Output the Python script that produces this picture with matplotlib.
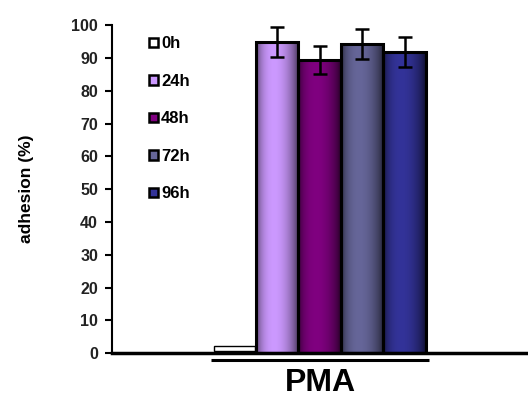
import numpy as np
import matplotlib.pyplot as plt
from matplotlib.patches import Patch, Rectangle
from matplotlib.colors import to_rgb

plt.rcParams['font.family'] = ['Liberation Sans', 'DejaVu Sans']

times = ["0h", "24h", "48h", "72h", "96h"]
adhesion = [1.5, 94.8, 89.3, 94.2, 91.8]
errors = [0, 4.6, 4.3, 4.6, 4.5]
colors = ["#FFFFFF", "#CC99FF", "#800080", "#666699", "#333399"]
group_label = "PMA"

fig = plt.figure(figsize=(5.28, 3.99), dpi=100)
ax = fig.add_axes([0.212, 0.115, 0.788, 0.822])

x = np.arange(len(times))
width = 1.0


def shaded_bar(ax, xc, h, color):
    # fake the cylinder look: dark edges, light a bit left of centre
    t = np.linspace(0, 1, 64)
    shade = 0.25 + 0.75 * np.clip(np.sin(np.pi * t ** 0.8), 0, 1) ** 0.6
    rgb = np.array(to_rgb(color))
    img = (shade[:, None] * rgb[None, :])[None, :, :]
    x0 = xc - width / 2
    ax.imshow(img, extent=(x0, x0 + width, 0, h), aspect="auto",
              interpolation="bilinear", zorder=2)
    ax.add_patch(Rectangle((x0, 0), width, h, fill=False,
                           edgecolor="black", linewidth=2.2, zorder=3))


for i, (v, c) in enumerate(zip(adhesion, colors)):
    if i == 0:
        ax.add_patch(Rectangle((x[i] - width / 2 + 0.02, 0.6), width - 0.04, v,
                               facecolor=c, edgecolor="black", linewidth=1.0,
                               zorder=3))
    else:
        shaded_bar(ax, x[i], v, c)

ax.errorbar(x[1:], adhesion[1:], yerr=errors[1:], fmt="none", ecolor="black",
            elinewidth=1.8, capsize=5, capthick=1.8, zorder=4)

ax.set_xlim(-2.88, 6.9)
ax.set_ylim(0, 100)
ax.set_yticks(range(0, 101, 10))
ax.set_xticks([])
ax.spines["top"].set_visible(False)
ax.spines["right"].set_visible(False)
ax.spines["left"].set_linewidth(1.5)
ax.spines["bottom"].set_linewidth(2.5)
ax.tick_params(axis="y", direction="out", length=5, width=1.5,
               labelsize=11.5, pad=5)
for lab in ax.get_yticklabels():
    lab.set_fontweight("bold")
    lab.set_color("#222222")
ax.set_ylabel("adhesion (%)", fontsize=12.5, fontweight="bold", labelpad=27)

# group underline and label
ax.plot([-0.55, 4.58], [-2.1, -2.1], color="black", linewidth=2.2,
        clip_on=False, solid_capstyle="butt")
fig.text(320 / 528, 1 - 383 / 399, group_label, fontsize=23, fontweight="bold",
         ha="center", va="center")

handles = [Patch(facecolor=c, edgecolor="black", linewidth=1.8) for c in colors]
leg = ax.legend(handles, times, loc="upper left",
                bbox_to_anchor=(141 / 528, 1 - 28 / 399),
                bbox_transform=fig.transFigure, frameon=False,
                handlelength=0.5, handleheight=0.5, handletextpad=0.2,
                labelspacing=1.35, borderpad=0,
                prop={"weight": "bold", "size": 12})

fig.savefig("out.png", dpi=100)
